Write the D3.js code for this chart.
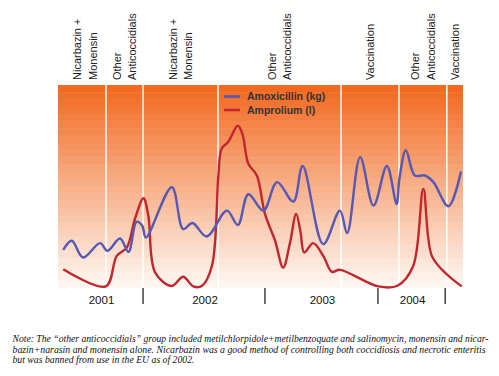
<!DOCTYPE html>
<html>
<head>
<meta charset="utf-8">
<script src="https://cdn.jsdelivr.net/npm/d3@7"></script>
<style>
  html, body { margin: 0; padding: 0; background: #ffffff; }
  svg { display: block; }
</style>
</head>
<body>
<svg id="chart" width="499" height="376"></svg>
<script>
// ---- DATA (x: period index 0–100 along the timeline, y: relative usage 0–100) ----
const amoxicillinX = [1.3, 3.4, 6.2, 10.4, 12.2, 15.3, 17.4, 19.4, 20.8, 21.7, 28.1, 30.9, 33.2, 36.7, 41.7, 44.4, 47.0, 50.7, 54.1, 58.1, 60.4, 65.5, 69.6, 71.4, 74.6, 77.9, 81.2, 83.6, 84.3, 85.9, 88.1, 90.6, 92.7, 96.4, 99.5];
const amoxicillinY = [18.4, 22.9, 14.6, 21.7, 17.9, 24.0, 17.4, 32.3, 30.3, 24.5, 49.4, 28.7, 31.7, 25.0, 37.8, 30.7, 45.9, 37.8, 51.9, 42.3, 59.9, 21.2, 37.8, 26.7, 64.3, 40.3, 59.9, 41.1, 53.6, 67.7, 55.2, 55.2, 51.9, 40.0, 57.2];
const amproliumX = [1.3, 11.8, 14.5, 17.0, 19.0, 21.1, 22.3, 24.0, 28.1, 30.9, 33.4, 35.5, 38.0, 39.6, 40.4, 42.0, 44.4, 45.5, 47.0, 49.1, 51.1, 53.6, 55.6, 57.3, 58.8, 59.9, 60.8, 63.0, 65.5, 67.6, 69.6, 79.1, 83.8, 87.7, 90.2, 92.3, 96.0, 99.7];
const amproliumY = [8.8, 0.3, 15.4, 19.6, 33.7, 43.9, 35.3, 7.1, 0.5, 5.1, 0.3, 0.5, 10.4, 55.2, 68.5, 71.8, 79.8, 76.0, 61.0, 55.2, 36.2, 22.9, 9.6, 22.0, 36.2, 27.0, 17.1, 21.7, 15.4, 7.5, 8.5, 0.3, 0.6, 10.4, 48.6, 15.4, 6.3, 0.3];

const seriesNames = ["Amoxicillin (kg)", "Amprolium (l)"];
const yearLabels = ["2001", "2002", "2003", "2004"];
const yearBounds = [0, 21.0, 51.1, 79.0, 95.6];          // year ticks (positions of the boundaries)
const periodBounds = [0, 11.85, 21.0, 39.5, 69.9, 84.2, 96.0, 100]; // treatment periods
const periodLabels = [
  ["Nicarbazin +", "Monensin"],
  ["Other", "Anticoccidials"],
  ["Nicarbazin +", "Monensin"],
  ["Other", "Anticoccidials"],
  ["Vaccination"],
  ["Other", "Anticoccidials"],
  ["Vaccination"]
];
const noteLines = [
  "Note: The \u201cother anticoccidials\u201d group included metilchlorpidole+metilbenzoquate and salinomycin, monensin and nicar-",
  "bazin+narasin and monensin alone. Nicarbazin was a good method of controlling both coccidiosis and necrotic enteritis",
  "but was banned from use in the EU as of 2002."
];

// ---- LAYOUT ----
const svg = d3.select("#chart");
const plot = { left: 58, right: 463, top: 85, bottom: 287 };
const x = d3.scaleLinear().domain([0, 100]).range([plot.left, plot.right]);
const y = d3.scaleLinear().domain([0, 100]).range([plot.bottom, plot.top]);
const narrow = "'Liberation Sans Narrow', 'Arial Narrow', 'Liberation Sans', sans-serif";

// banded gradient background
const nBands = 28;
const bandH = (plot.bottom - plot.top) / nBands;
const col = d3.interpolateRgb("#f26a22", "#fdf5ef");
svg.append("g").selectAll("rect").data(d3.range(nBands)).join("rect")
  .attr("x", plot.left).attr("width", plot.right - plot.left)
  .attr("y", i => plot.top + i * bandH).attr("height", bandH + 0.5)
  .attr("fill", i => col(i / (nBands - 1)));

// period dividers
svg.append("g").selectAll("line").data(periodBounds.slice(1, -1)).join("line")
  .attr("x1", d => x(d)).attr("x2", d => x(d))
  .attr("y1", plot.top).attr("y2", plot.bottom)
  .attr("stroke", "#ffffff").attr("stroke-width", 1.5);

// period labels (rotated)
const lg = svg.append("g").attr("font-family", narrow).attr("font-size", 11).attr("fill", "#222");
periodLabels.forEach((lines, i) => {
  const cx = x((periodBounds[i] + periodBounds[i + 1]) / 2) + (i === 0 ? 3 : 0);
  const gap = 15.5;
  lines.forEach((t, j) => {
    const off = (j - (lines.length - 1) / 2) * gap;
    const lx = cx + off + 4;
    lg.append("text")
      .attr("transform", `translate(${lx},80) rotate(-90)`)
      .attr("text-anchor", "start")
      .text(t);
  });
});

// lines
const curve = d3.curveCatmullRom.alpha(0.5);
const lineGen = d3.line().x(d => x(d[0])).y(d => y(d[1])).curve(curve);
svg.append("path")
  .datum(d3.zip(amproliumX, amproliumY))
  .attr("d", lineGen).attr("fill", "none")
  .attr("stroke", "#c1272d").attr("stroke-width", 2.4).attr("stroke-linejoin", "round");
svg.append("path")
  .datum(d3.zip(amoxicillinX, amoxicillinY))
  .attr("d", lineGen).attr("fill", "none")
  .attr("stroke", "#5558b4").attr("stroke-width", 2.4).attr("stroke-linejoin", "round");

// legend
const legColors = ["#5558b4", "#c1272d"];
const leg = svg.append("g");
seriesNames.forEach((n, i) => {
  const ly = 96.5 + i * 13.5;
  leg.append("line").attr("x1", 224).attr("x2", 240).attr("y1", ly).attr("y2", ly)
    .attr("stroke", legColors[i]).attr("stroke-width", 2.6);
  leg.append("text").attr("x", 247).attr("y", ly + 3.5)
    .attr("font-family", narrow).attr("font-weight", "bold").attr("font-size", 10.5)
    .attr("fill", "#333").text(n);
});

// year axis
const ax = svg.append("g");
ax.selectAll("line").data(yearBounds.slice(1)).join("line")
  .attr("x1", d => x(d)).attr("x2", d => x(d))
  .attr("y1", 288).attr("y2", 304)
  .attr("stroke", "#111").attr("stroke-width", 1.2);
ax.selectAll("text").data(yearLabels).join("text")
  .attr("x", (d, i) => x((yearBounds[i] + yearBounds[i + 1]) / 2) + 1)
  .attr("y", 304)
  .attr("text-anchor", "middle")
  .attr("font-family", narrow).attr("font-size", 11.5).attr("fill", "#111")
  .text(d => d);

// note
const note = svg.append("g").attr("font-family", "'Liberation Serif', 'DejaVu Serif', serif")
  .attr("font-style", "italic").attr("font-size", 9.6).attr("fill", "#111");
noteLines.forEach((t, i) => {
  const tx = note.append("text").attr("x", 12.5).attr("y", 342 + i * 10.5).text(t);
  if (i === 0) tx.attr("textLength", 476).attr("lengthAdjust", "spacingAndGlyphs");
  if (i === 1) tx.attr("textLength", 473).attr("lengthAdjust", "spacingAndGlyphs");
  if (i === 2) tx.attr("textLength", 182).attr("lengthAdjust", "spacingAndGlyphs");
});
</script>
</body>
</html>
